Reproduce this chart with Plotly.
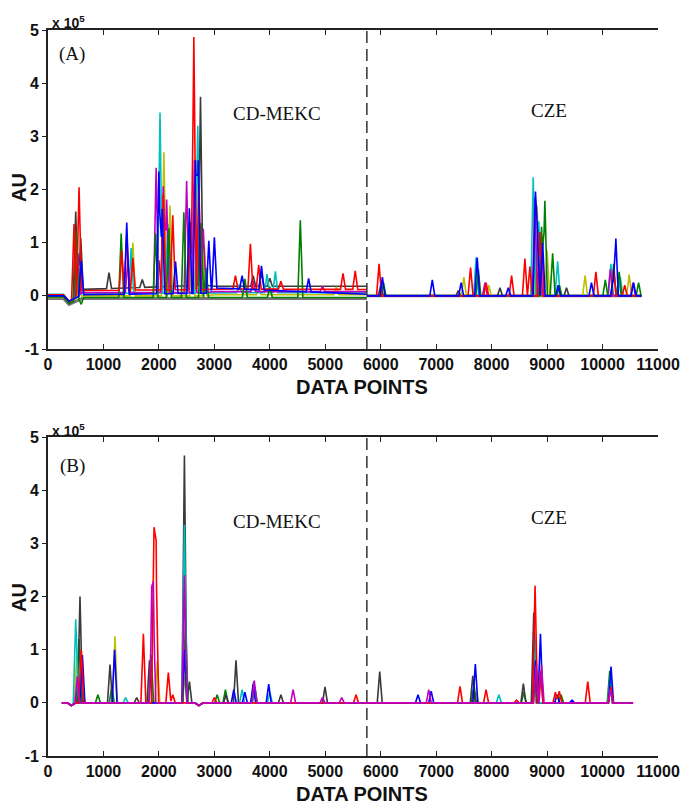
import numpy as np
import plotly.graph_objects as go

SCALE = 1e5  # AU values below are in units of 1e5

# ---------------- Panel A (peaks: position in data points, height x1e5) ----------------
A_cd_bx = [0, 280, 380, 470, 620, 2850, 3000, 5750]
A_split = 5750
A_end = 10700

A_red_pos = [470, 560, 1330, 1420, 1530, 2080, 2250, 2570, 2630, 2720, 3380, 3650, 3800, 4200, 5320, 5540,
             5970, 7620, 7900, 8360, 8600, 8690, 8870, 9880, 10200, 10400]
A_red_h = [1.4, 2.0, 0.75, 1.05, 0.6, 1.8, 1.4, 1.0, 4.75, 2.0, 0.25, 0.85, 0.45, 0.15, 0.3, 0.35,
           0.6, 0.53, 0.25, 0.38, 0.7, 0.55, 1.2, 0.45, 0.5, 0.2]
A_red_by = [0.02, 0.02, -0.1, -0.05, 0.1, 0.12, 0.13, 0.12]

A_black_pos = [500, 590, 1100, 1700, 2000, 2560, 2750, 3700, 3850, 4000,
               6000, 7400, 8150, 8800, 9350, 10300]
A_black_h = [1.6, 1.0, 0.3, 0.15, 0.5, 1.2, 3.55, 0.2, 0.25, 0.15,
             0.2, 0.1, 0.15, 1.5, 0.15, 0.3]
A_black_by = [0.0, 0.0, -0.12, -0.05, 0.12, 0.2, 0.18, 0.18]

A_green_pos = [510, 600, 1320, 1940, 2180, 2450, 2760, 2850, 3550, 4000, 4550,
               6050, 7760, 8900, 8960, 9100, 9220, 10050, 10200, 10300, 10650]
A_green_h = [1.3, -0.12, 1.2, 1.2, 1.3, 1.6, 1.4, 0.55, 0.35, 0.2, 1.45,
             0.25, 0.5, 1.3, 1.79, 0.8, 0.2, 0.3, 0.6, 0.45, 0.25]
A_green_by = [-0.02, -0.02, -0.15, -0.1, -0.03, -0.03, -0.03, -0.03]

A_cyan_pos = [520, 1500, 2020, 2160, 2700, 3450, 3950, 4100,
              7720, 8750, 8850, 9190, 10150, 10320]
A_cyan_h = [1.0, 0.85, 3.4, 1.3, 3.15, 0.15, 0.35, 0.4,
            0.72, 2.23, 1.4, 0.65, 0.6, 0.35]
A_cyan_by = [0.03, 0.03, -0.1, -0.05, 0.05, 0.05, 0.06, 0.06]

A_magenta_pos = [540, 1440, 1950, 2080, 2140, 2500, 2640, 2800, 3700, 4950,
                 7880, 8780, 8900, 10140, 10550]
A_magenta_h = [0.8, 0.6, 2.35, 2.0, 1.75, 2.1, 2.5, 1.2, 0.2, 0.1,
               0.25, 1.85, 1.0, 0.5, 0.25]
A_magenta_by = [0.0, 0.0, -0.12, -0.05, 0.06, 0.06, 0.08, 0.08]

A_yellow_pos = [560, 1530, 2090, 2200, 2600, 2820, 3800, 5200,
                7500, 7950, 8820, 9000, 9220, 9685, 10480]
A_yellow_h = [0.6, 1.0, 2.7, 1.7, 1.0, 0.95, 0.15, 0.15,
              0.35, 0.2, 1.7, 0.85, 0.2, 0.38, 0.4]
A_yellow_by = [-0.03, -0.03, -0.13, -0.08, 0.0, 0.0, 0.02, 0.02]

A_blue_pos = [600, 1420, 2000, 2060, 2300, 2550, 2660, 2710, 2900, 3000, 3500, 3850, 4700,
              6030, 6930, 7450, 7740, 8300, 8790, 8830, 8920, 9200, 9800, 10190, 10240, 10560]
A_blue_h = [0.65, 1.35, 2.3, 1.6, 0.6, 1.6, 2.5, 2.5, 0.95, 0.95, 0.25, 0.45, 0.25,
            0.35, 0.3, 0.25, 0.72, 0.15, 1.85, 1.0, 1.0, 0.2, 0.25, 0.3, 1.08, 0.25]
A_blue_by = [0.0, 0.0, -0.1, -0.05, 0.02, 0.05, 0.15, 0.03]

A_gray_pos = []
A_gray_h = []
A_gray_by = [-0.05, -0.05, -0.16, -0.12, -0.05, -0.05, -0.05, -0.05]

# ---------------- Panel B ----------------
B_bx = [250, 350, 420, 500, 2650, 2720, 2800, 10550]
B_by = [0.0, 0.0, -0.05, 0.0, 0.0, -0.05, 0.0, 0.0]

B_yellow_pos = [520, 640, 1208, 1972, 2460, 7720, 8800, 9250, 10140]
B_yellow_h = [0.9, 0.1, 1.25, 0.78, 0.5, 0.2, 0.3, 0.15, 0.4]

B_green_pos = [560, 900, 1150, 1860, 2480, 3050, 3200, 3730, 7680, 8580, 8790, 9250, 10130]
B_green_h = [1.2, 0.15, 0.3, 0.9, 1.6, 0.15, 0.25, 0.3, 0.35, 0.2, 1.1, 0.15, 0.6]

B_black_pos = [577, 1118, 1600, 1830, 2460, 2550, 3210, 3390, 3710, 4200, 4995,
               5982, 7660, 8572, 8760, 10150]
B_black_h = [2.0, 0.72, 0.1, 0.8, 4.65, 0.4, 0.15, 0.8, 0.4, 0.15, 0.3,
             0.59, 0.51, 0.36, 1.7, 0.3]

B_cyan_pos = [500, 600, 1400, 2460, 3500, 3720, 4000, 8130, 8790, 10140]
B_cyan_h = [1.57, 0.8, 0.1, 3.35, 0.25, 0.3, 0.2, 0.15, 1.2, 0.5]

B_blue_pos = [620, 1200, 2460, 3350, 3550, 3700, 3980, 6672, 6910, 7706, 8790, 8880, 9180, 9450, 10153]
B_blue_h = [0.9, 1.0, 1.0, 0.25, 0.2, 0.35, 0.35, 0.15, 0.22, 0.73, 0.8, 1.3, 0.15, 0.05, 0.68]

B_red_pos = [600, 1720, 1912, 1950, 2170, 2250, 3000, 5555, 7430, 7900, 8450, 8783, 8880, 9150, 9220, 9733, 10150]
B_red_h = [1.0, 1.3, 2.9, 2.6, 0.57, 0.15, 0.1, 0.15, 0.31, 0.25, 0.05, 2.2, 0.6, 0.2, 0.22, 0.4, 0.3]

B_magenta_pos = [530, 1870, 1900, 2460, 3720, 4420, 4950, 5297, 6866, 8800, 8900, 10140]
B_magenta_h = [0.5, 1.6, 1.75, 2.4, 0.42, 0.25, 0.1, 0.1, 0.25, 0.7, 0.7, 0.25]

X_TICKS = [0, 1000, 2000, 3000, 4000, 5000, 6000, 7000, 8000, 9000, 10000, 11000]
X_TICK_TEXT = ["0", "1000", "2000", "3000", "4000", "5000", "6000", "7000", "8000", "9000", "10000", "11000"]
Y_TICKS = [-1, 0, 1, 2, 3, 4, 5]
Y_TICK_TEXT = ["-1", "0", "1", "2", "3", "4", "5"]

COL = {"red": "#ff0000", "green": "#008000", "blue": "#0000ff", "cyan": "#00bfbf",
       "magenta": "#bf00bf", "yellow": "#bfbf00", "black": "#3a3a3a", "gray": "#777777"}
W = 45  # half-width of a peak, in data points


def segment(bx, by, pos, h, x0, x1):
    """Piecewise-linear trace: baseline anchors plus triangular peaks within [x0, x1]."""
    pk = [(p, v) for p, v in zip(pos, h) if x0 < p < x1]
    xs = set(b for b in bx if x0 <= b <= x1) | {x0, x1}
    for p, _ in pk:
        xs |= {max(x0, p - W), p, min(x1, p + W)}
    xs = np.array(sorted(xs), dtype=float)
    ys = np.interp(xs, bx, by)
    for p, v in pk:
        ys += v * np.clip(1 - np.abs(xs - p) / W, 0, None)
    return xs, ys * SCALE


fig = go.Figure()

A_series = [("gray", A_gray_pos, A_gray_h, A_gray_by, 3.0),
            ("black", A_black_pos, A_black_h, A_black_by, 1.6),
            ("yellow", A_yellow_pos, A_yellow_h, A_yellow_by, 1.6),
            ("cyan", A_cyan_pos, A_cyan_h, A_cyan_by, 1.6),
            ("magenta", A_magenta_pos, A_magenta_h, A_magenta_by, 1.6),
            ("green", A_green_pos, A_green_h, A_green_by, 1.6),
            ("red", A_red_pos, A_red_h, A_red_by, 1.6),
            ("blue", A_blue_pos, A_blue_h, A_blue_by, 1.6)]
for name, pos, h, by, lw in A_series:
    x1, y1 = segment(A_cd_bx, by, pos, h, 0, A_split)
    x2, y2 = segment([A_split, A_end], [0.0, 0.0], pos, h, A_split, A_end)
    x = np.concatenate([x1, [np.nan], x2])
    y = np.concatenate([y1, [np.nan], y2])
    fig.add_trace(go.Scatter(x=x, y=y, mode="lines", line=dict(color=COL[name], width=lw),
                             xaxis="x", yaxis="y", showlegend=False, connectgaps=False))

B_series = [("yellow", B_yellow_pos, B_yellow_h), ("green", B_green_pos, B_green_h),
            ("black", B_black_pos, B_black_h), ("cyan", B_cyan_pos, B_cyan_h),
            ("blue", B_blue_pos, B_blue_h), ("red", B_red_pos, B_red_h),
            ("magenta", B_magenta_pos, B_magenta_h)]
for name, pos, h in B_series:
    x, y = segment(B_bx, B_by, pos, h, B_bx[0], B_bx[-1])
    fig.add_trace(go.Scatter(x=x, y=y, mode="lines", line=dict(color=COL[name], width=1.6),
                             xaxis="x2", yaxis="y2", showlegend=False))

# ---------------- Layout ----------------
L, R, T, B = 48, 658, 30, 756
WID, HEI = 681, 804


def px(xp):
    return (xp - L) / (R - L)


def py(yp):
    return (B - yp) / (B - T)


y_vals = [v * SCALE for v in Y_TICKS]
tickfont = dict(family="Liberation Sans, Arial", size=16, color="#111", weight="bold")

xcommon = dict(range=[0, 11000], tickvals=X_TICKS, ticktext=X_TICK_TEXT, ticks="inside", ticklen=5,
               tickwidth=1.3, tickcolor="#222", showline=True, linecolor="#222", linewidth=1.8,
               mirror="ticks", showgrid=False, zeroline=False, tickfont=tickfont, automargin=False)
ycommon = dict(range=[-1 * SCALE, 5 * SCALE], tickvals=y_vals, ticktext=Y_TICK_TEXT, ticks="outside",
               ticklen=4, tickwidth=1.3, tickcolor="#222", showline=True, linecolor="#222",
               linewidth=1.8, showgrid=False, zeroline=False, tickfont=tickfont, automargin=False)
yright = dict(range=[-1 * SCALE, 5 * SCALE], tickvals=y_vals, ticks="inside", ticklen=6,
              tickwidth=1.3, tickcolor="#222", showline=True, linecolor="#222", linewidth=1.8,
              showgrid=False, zeroline=False, showticklabels=False, side="right", automargin=False)

A_dom = [py(349), 1.0]
B_dom = [0.0, py(437)]

fig.update_layout(
    width=WID, height=HEI,
    margin=dict(l=L, r=WID - R, t=T, b=HEI - B, autoexpand=False),
    paper_bgcolor="white", plot_bgcolor="white",
    xaxis=dict(domain=[0, 1], anchor="y", **xcommon),
    yaxis=dict(domain=A_dom, anchor="x", **ycommon),
    xaxis2=dict(domain=[0, 1], anchor="y2", **xcommon),
    yaxis2=dict(domain=B_dom, anchor="x2", **ycommon),
    yaxis3=dict(overlaying="y", anchor="x", **yright),
    yaxis4=dict(overlaying="y2", anchor="x2", **yright),
)

for xr, yr in [("x", "y"), ("x2", "y2")]:
    fig.add_shape(type="line", xref=xr, yref=yr, x0=A_split, x1=A_split,
                  y0=-1 * SCALE, y1=5 * SCALE, line=dict(color="#333", width=1.5, dash="12px,6px"))

serif = dict(family="Liberation Serif, Times New Roman", size=19, color="#111")
bold_lab = dict(family="Liberation Sans, Arial", size=20, color="#111", weight="bold")
exp_font = dict(family="Liberation Sans, Arial", size=14, color="#111", weight="bold")

ann = []
for (lab, ylab, ymek, ycze, yexp, yaxt, yau) in [("(A)", 54, 114, 110, 22, 387, 188),
                                                 ("(B)", 466, 521, 517, 430, 794, 598)]:
    ann += [
        dict(text=lab, x=px(72), y=py(ylab), font=serif),
        dict(text="CD-MEKC", x=px(277), y=py(ymek), font=serif),
        dict(text="CZE", x=px(549), y=py(ycze), font=serif),
        dict(text="x 10<sup>5</sup>", x=px(50), y=py(yexp), xanchor="left", font=exp_font),
        dict(text="DATA POINTS", x=px(362), y=py(yaxt), font=bold_lab),
        dict(text="AU", x=px(19), y=py(yau), textangle=-90, font=bold_lab),
    ]
for a in ann:
    a.setdefault("xanchor", "center")
    a.update(xref="paper", yref="paper", yanchor="middle", showarrow=False)
fig.update_layout(annotations=ann)

fig.write_html("out.html", config={"displayModeBar": False},
               post_script="document.body.style.margin='0';document.body.style.overflow='hidden';")
